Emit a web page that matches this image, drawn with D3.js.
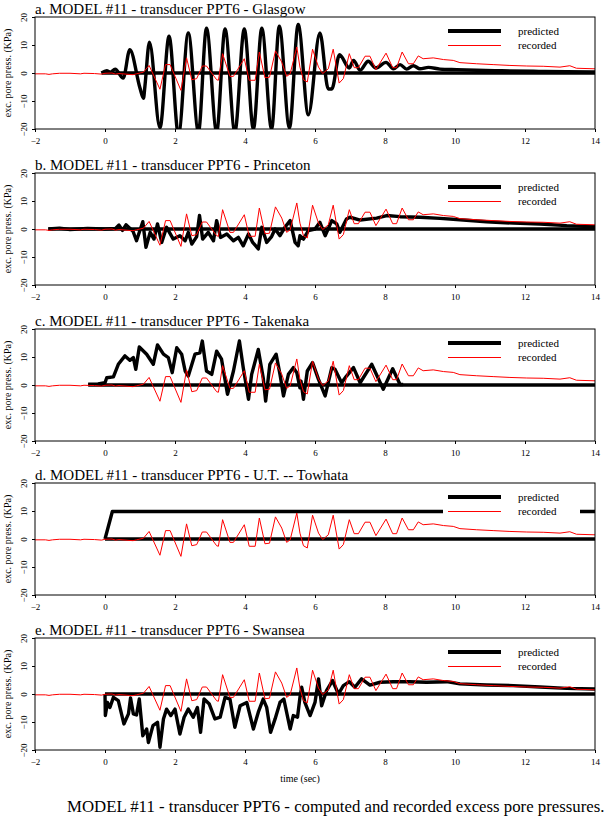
<!DOCTYPE html>
<html>
<head>
<meta charset="utf-8">
<script src="https://cdn.jsdelivr.net/npm/d3@7"></script>
<style>
  body { margin: 0; background: #fff; }
  text { font-family: "Liberation Serif", "Times New Roman", serif; }
</style>
</head>
<body>
<div id="chart"></div>
<script>
// recorded excess pore pressure (same record in every panel), [time s, kPa]
const recorded = [
  [-2,-0.3],[-1.7,-0.3],[-1.6,-0.5],[-1.5,-0.3],[-1.3,-0.1],[-1.0,-0.1],[-0.7,-0.3],[-0.6,-0.1],
  [-0.3,-0.2],[-0.1,-0.4],[0,-0.1],[0.2,0],[0.3,-0.4],[0.4,-0.2],[0.6,-0.4],[0.8,-0.6],[0.9,-0.3],
  [1.0,0],[1.1,0.3],[1.26,2.7],[1.57,-5.8],[1.73,3.0],[1.86,3.0],[2.17,-6.2],[2.33,5.4],[2.48,-2.4],
  [2.62,-2.0],[2.78,2.5],[2.9,2.5],[3.19,-2.4],[3.24,-2.6],[3.36,6.9],[3.57,-1.2],[3.67,-1.2],
  [3.98,5.1],[4.12,-2.6],[4.29,-2.6],[4.41,7.5],[4.57,-1.7],[4.7,-1.5],[4.87,7.9],[5.05,3.9],
  [5.19,-1.2],[5.29,-0.3],[5.48,9.3],[5.57,2.1],[5.67,-2.4],[5.78,-3.2],[5.93,8.5],[6.1,2.1],
  [6.22,-0.2],[6.38,1.5],[6.52,8.5],[6.69,-3.6],[6.81,-2.0],[6.98,6.9],[7.12,1.9],[7.24,1.9],
  [7.43,6.0],[7.57,6.0],[7.74,1.2],[8.03,7.1],[8.22,1.9],[8.33,1.9],[8.49,7.5],[8.67,3.3],
  [8.81,3.3],[8.95,6.1],[9.09,5.1],[9.38,5.4],[9.67,4.8],[9.95,4.5],[10.14,3.7],[10.62,3.3],
  [11.09,3.0],[11.57,2.7],[12.05,2.5],[12.52,2.4],[13.0,2.1],[13.28,2.6],[13.47,1.7],[14,1.5]
];

// predicted, Glasgow
const predGlasgow = [
  [-0.1,0],[0.05,0.8],[0.15,0.3],[0.29,1.4],[0.52,-1.8],[0.71,8.3],[1.0,-5.4],[1.1,-9],[1.14,-4.8],
  [1.27,11],[1.57,-19.6],[1.83,13.1],[2.1,-22],[2.38,14.3],[2.67,-21],[2.9,16],[3.19,-21],
  [3.43,15.7],[3.71,-21],[3.98,15.7],[4.24,-20],[4.48,16],[4.76,-20],[4.98,16.7],[5.27,-19.6],
  [5.52,17.3],[5.81,-14.9],[6.14,14.3],[6.38,-5.7],[6.48,-5.7],[6.7,6.5],[6.98,1.8],[7.1,4.5],
  [7.29,1],[7.52,4.2],[7.74,1.8],[8.03,3.8],[8.24,1.5],[8.43,3],[8.62,1.4],[8.81,2.6],[9.0,1.5],
  [9.24,2],[9.57,1.4],[10.05,1.2],[10.62,1],[11.29,0.8],[12.24,0.6],[13.19,0.5],[14,0.4]
];

// predicted, Princeton
const predPrinceton = [
  [-1.62,0],[-1.3,0.3],[-1.0,-0.2],[-0.5,0.2],[0,0],[0.3,0.2],[0.4,1.4],[0.5,-0.5],[0.6,1.5],
  [0.8,-0.8],[0.9,-4.2],[1.08,2.6],[1.17,-6.5],[1.29,-1.2],[1.4,-3.6],[1.5,1.8],[1.62,-4.8],
  [1.76,0.6],[1.95,-3.6],[2.14,-2.4],[2.29,-4.2],[2.38,-1.2],[2.48,-5.4],[2.62,-2.7],[2.7,4.8],
  [2.79,-3.6],[2.95,-1.2],[3.1,-4.2],[3.19,3],[3.3,-3],[3.48,-1.8],[3.67,-4.2],[3.81,-3],
  [3.95,-6],[4.1,-1.8],[4.22,-4.8],[4.38,-7.1],[4.48,0.6],[4.62,-4.8],[4.76,-2.7],[4.86,0],
  [5.0,-2.4],[5.14,0.6],[5.29,3],[5.43,-4.8],[5.52,-6],[5.57,-2.4],[5.67,-3.6],[5.81,-0.6],
  [6.0,0],[6.14,2.4],[6.29,-2.4],[6.48,3],[6.62,1.8],[6.71,-1.2],[6.9,3.6],[7.0,4.2],[7.29,3.2],
  [7.76,3.9],[8.05,4.8],[8.43,4.4],[9.0,4.2],[9.57,3.8],[10.14,3.3],[10.9,2.6],[11.67,2.1],
  [12.43,1.8],[13.19,1.2],[14,0.8]
];

// predicted, Takenaka
const predTakenaka = [
  [-0.48,0.3],[-0.2,0.4],[0,0.8],[0.05,2.6],[0.24,2.9],[0.38,7.4],[0.57,10.4],[0.71,8.8],
  [0.81,9.8],[0.88,5.6],[0.98,13.6],[1.19,11],[1.38,7.4],[1.5,14.3],[1.67,11],[1.81,9.8],
  [1.92,4.4],[2.05,13.3],[2.19,11],[2.29,5],[2.38,3.2],[2.57,11],[2.71,11.5],[2.78,15.7],
  [2.9,5],[3.05,3.8],[3.19,12.1],[3.33,9.2],[3.5,-3.3],[3.67,5],[3.84,15.7],[3.95,6.2],
  [4.1,-5.1],[4.19,3.8],[4.38,12.7],[4.52,2.6],[4.59,-5.7],[4.71,7.4],[4.89,11],[5.0,3.8],
  [5.1,-3.9],[5.24,3.8],[5.38,6.2],[5.48,4.4],[5.57,-1],[5.6,1.4],[5.67,-5.1],[5.78,5],
  [5.93,8],[6.1,2],[6.29,-3.9],[6.48,6.2],[6.57,5.6],[6.76,0.8],[6.9,3.2],[7.1,6.2],[7.29,0.8],
  [7.62,7.4],[7.95,-1.5],[8.22,5.8],[8.43,0.2],[8.52,0.2]
];

// predicted, U.T. -- Towhata
const predTowhata = [[0,0],[0.21,9.8],[14,9.8]];

// predicted, Swansea
const predSwansea = [
  [0,0],[0.01,-7.7],[0.07,-3],[0.14,-4.8],[0.24,-1.2],[0.38,-2.4],[0.54,-10.7],[0.67,-7.1],
  [0.73,-1.4],[0.81,-7.1],[0.9,-7.5],[0.98,-1.8],[1.08,-14.9],[1.19,-12.5],[1.24,-17.3],
  [1.37,-11.3],[1.5,-10.1],[1.57,-19],[1.67,-8.9],[1.76,-5.4],[1.88,-7.7],[2.0,-5.4],
  [2.14,-14.3],[2.26,-8.3],[2.38,-5.4],[2.52,-8.3],[2.64,-4.8],[2.73,-13.7],[2.83,-1.8],
  [2.98,-3.6],[3.14,-8.9],[3.29,-8.3],[3.43,-1.2],[3.57,-1.8],[3.71,-11.9],[3.86,-4.2],
  [4.05,-3],[4.24,-12.5],[4.38,-6.5],[4.52,-1.8],[4.62,-4.8],[4.73,-13.7],[4.86,-8.9],[5.0,-3],
  [5.11,-1.8],[5.29,-12.5],[5.38,-7.7],[5.5,-8.3],[5.57,-1.2],[5.62,2.4],[5.71,-3],[5.86,-7.7],
  [6.0,-3],[6.1,5.4],[6.19,-4.2],[6.33,1.2],[6.5,4.8],[6.67,0],[6.81,3],[6.98,4.4],[7.14,2.4],
  [7.33,5.4],[7.57,3.2],[7.86,4.2],[8.24,4.4],[8.71,4.4],[9.19,4.2],[9.76,4.4],[10.14,3.6],
  [10.9,3.2],[11.67,3],[12.43,2.5],[13.19,2],[14,1.8]
];

const titles = [
  "a. MODEL #11 - transducer PPT6 - Glasgow",
  "b. MODEL #11 - transducer PPT6 - Princeton",
  "c. MODEL #11 - transducer PPT6 - Takenaka",
  "d. MODEL #11 - transducer PPT6 - U.T. -- Towhata",
  "e. MODEL #11 - transducer PPT6 - Swansea"
];
const predicted = [predGlasgow, predPrinceton, predTakenaka, predTowhata, predSwansea];
// time where the zero baseline of each prediction starts
const baseStart = [-0.1, -1.62, -0.48, 0, 0];

const xTicks = [-2, 0, 2, 4, 6, 8, 10, 12, 14];
const yTicks = [-20, -10, 0, 10, 20];
const legendLabels = ["predicted", "recorded"];

const W = 604, H = 817;
const left = 35, right = 595, ph = 112;
const panelTops = [17, 173, 329, 483, 638];

const svg = d3.select("#chart").append("svg")
  .attr("width", W).attr("height", H);

const x = d3.scaleLinear().domain([-2, 14]).range([left, right]);

panelTops.forEach(function (top, i) {
  const y = d3.scaleLinear().domain([-20, 20]).range([top + ph, top]);
  const g = svg.append("g");

  g.append("clipPath").attr("id", "clip" + i)
    .append("rect")
    .attr("x", left).attr("y", top).attr("width", right - left).attr("height", ph);

  // title
  g.append("text")
    .attr("x", left).attr("y", top - 3.5)
    .attr("font-size", "15px")
    .text(titles[i]);

  // y label
  g.append("text")
    .attr("transform", "translate(11," + (top + ph / 2) + ") rotate(-90)")
    .attr("text-anchor", "middle")
    .attr("font-size", "10px")
    .text("exc. pore press. (KPa)");

  // x axis
  const xa = g.append("g")
    .attr("transform", "translate(0," + (top + ph) + ")")
    .call(d3.axisBottom(x).tickValues(xTicks).tickSize(3).tickFormat(d3.format("d")));
  xa.select(".domain").remove();
  xa.selectAll("text").attr("font-size", "9px").attr("font-family", "Liberation Serif").attr("y", 9);

  // y axis
  const ya = g.append("g")
    .attr("transform", "translate(" + left + ",0)")
    .call(d3.axisLeft(y).tickValues(yTicks).tickSize(3).tickFormat(d3.format("d")));
  ya.select(".domain").remove();
  ya.selectAll("text")
    .attr("font-size", "9px").attr("font-family", "Liberation Serif")
    .attr("x", 0).attr("y", 0).attr("dy", 0)
    .attr("text-anchor", "middle")
    .attr("transform", "translate(-8,0) rotate(-90)");

  const line = d3.line().x(d => x(d[0])).y(d => y(d[1]));
  // the Glasgow prediction is a smooth oscillation
  const predLine = d3.line().x(d => x(d[0])).y(d => y(d[1]))
    .curve(i === 0 ? d3.curveMonotoneX : d3.curveLinear);
  const plot = g.append("g").attr("clip-path", "url(#clip" + i + ")");

  // zero baseline of the prediction
  plot.append("path")
    .datum([[baseStart[i], 0], [14, 0]])
    .attr("d", line)
    .attr("fill", "none").attr("stroke", "#000").attr("stroke-width", 3.4);

  plot.append("path")
    .datum(predicted[i])
    .attr("d", predLine)
    .attr("fill", "none").attr("stroke", "#000").attr("stroke-width", 3.4)
    .attr("stroke-linejoin", "round");

  plot.append("path")
    .datum(recorded)
    .attr("d", line)
    .attr("fill", "none").attr("stroke", "#ff0000").attr("stroke-width", 1);

  // legend
  const lg = g.append("g");
  lg.append("rect")
    .attr("x", 443).attr("y", top + 5).attr("width", 137).attr("height", 31)
    .attr("fill", "#fff");
  legendLabels.forEach(function (lab, k) {
    const ly = top + 14 + k * 14.5;
    lg.append("line")
      .attr("x1", 448).attr("x2", 501).attr("y1", ly).attr("y2", ly)
      .attr("stroke", k === 0 ? "#000" : "#ff0000")
      .attr("stroke-width", k === 0 ? 4 : 1);
    lg.append("text")
      .attr("x", 518).attr("y", ly + 3.5)
      .attr("font-size", "11px")
      .text(lab);
  });

  // frame
  g.append("rect")
    .attr("x", left).attr("y", top).attr("width", right - left).attr("height", ph)
    .attr("fill", "none").attr("stroke", "#000").attr("stroke-width", 1);
});

svg.append("text")
  .attr("x", 300).attr("y", 782)
  .attr("text-anchor", "middle")
  .attr("font-size", "10px")
  .text("time (sec)");

svg.append("text")
  .attr("x", 67).attr("y", 812)
  .attr("font-size", "16.8px")
  .text("MODEL #11 - transducer PPT6 - computed and recorded excess pore pressures.");
</script>
</body>
</html>
